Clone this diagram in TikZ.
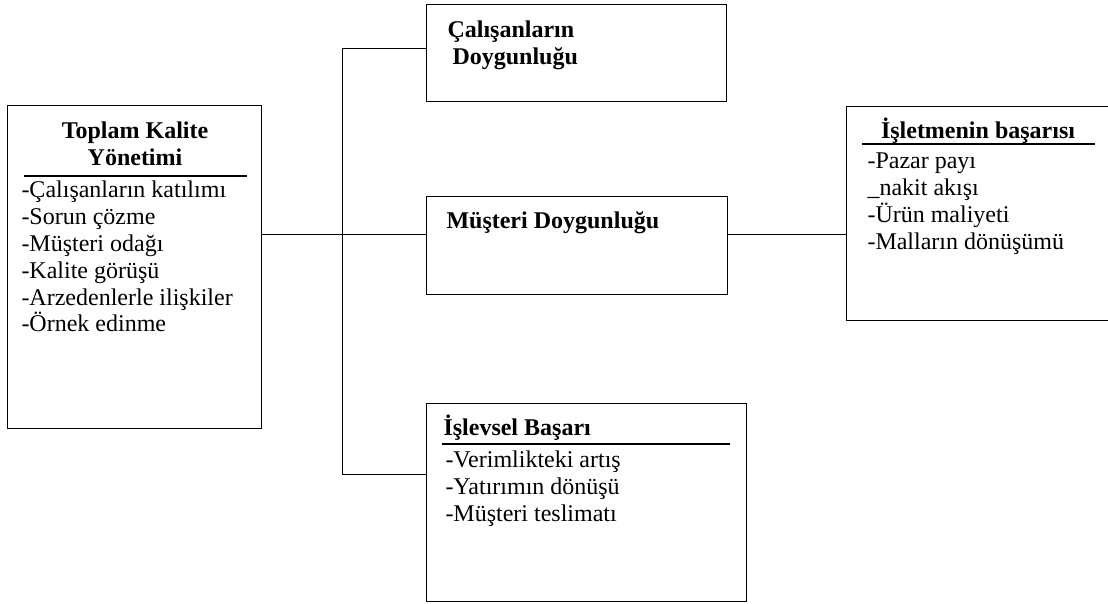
\documentclass[tikz,border=0pt]{standalone}
\usepackage{fontspec}
\setmainfont{Liberation Serif}
\begin{document}
\begin{tikzpicture}[x=1pt,y=-1pt, line width=1pt,
  box/.style={draw, rectangle, inner sep=0pt, anchor=north west},
  txt/.style={inner sep=0pt, anchor=base west, font=\fontsize{24}{27}\selectfont},
  ttl/.style={txt, font=\fontsize{24}{27}\selectfont\bfseries},
  rule/.style={line width=1.2pt}]
\useasboundingbox (0,0) rectangle (1108,603);
% boxes
\node[box, minimum width=254pt, minimum height=323pt] (tkm) at (7,105) {};
\node[box, minimum width=300pt, minimum height=97pt] (cal) at (426,4) {};
\node[box, minimum width=301pt, minimum height=98pt] (mus) at (426,196) {};
\node[box, minimum width=320pt, minimum height=198pt] (isl) at (426,403) {};
\node[box, minimum width=270pt, minimum height=214pt] (isb) at (846,106) {};
% left box text
\node[ttl, anchor=base] (tkmt1) at (135,138) {Toplam Kalite};
\node[ttl, anchor=base] (tkmt2) at (135,165) {Yönetimi};
\draw[rule] (24,176) -- (247,176);
\foreach \t [count=\i] in {-Çalışanların katılımı,-Sorun çözme,-Müşteri odağı,-Kalite görüşü,-Arzedenlerle ilişkiler,-Örnek edinme}
  \node[txt] (tkml\i) at (21,171+26.8*\i) {\t};
% top box
\node[ttl] (calt1) at (447,37) {Çalışanların};
\node[ttl] (calt2) at (452,64) {Doygunluğu};
% middle box
\node[ttl] (must) at (446,228) {Müşteri Doygunluğu};
% bottom box
\node[ttl] (islt) at (443,435) {İşlevsel Başarı};
\draw[rule] (442,444) -- (730,444);
\foreach \t [count=\i] in {-Verimlikteki artış,-Yatırımın dönüşü,-Müşteri teslimatı}
  \node[txt] (isll\i) at (445,440+27*\i) {\t};
% right box
\node[ttl, anchor=base] (isbt) at (978,138) {İşletmenin başarısı};
\draw[rule] (862,144) -- (1095,144);
\foreach \t [count=\i] in {-Pazar payı,\_nakit akışı,-Ürün maliyeti,-Malların dönüşümü}
  \node[txt] (isbl\i) at (867,141+27*\i) {\t};
% connectors
\coordinate (jm) at (342,234);
\coordinate (jt) at (342,48);
\coordinate (jb) at (342,474);
\draw (tkm.east |- jm) -- (mus.west |- jm);
\draw (cal.west |- jt) -- (jt) -- (jb) -- (isl.west |- jb);
\draw (mus.east |- jm) -- (isb.west |- jm);
\end{tikzpicture}
\end{document}
